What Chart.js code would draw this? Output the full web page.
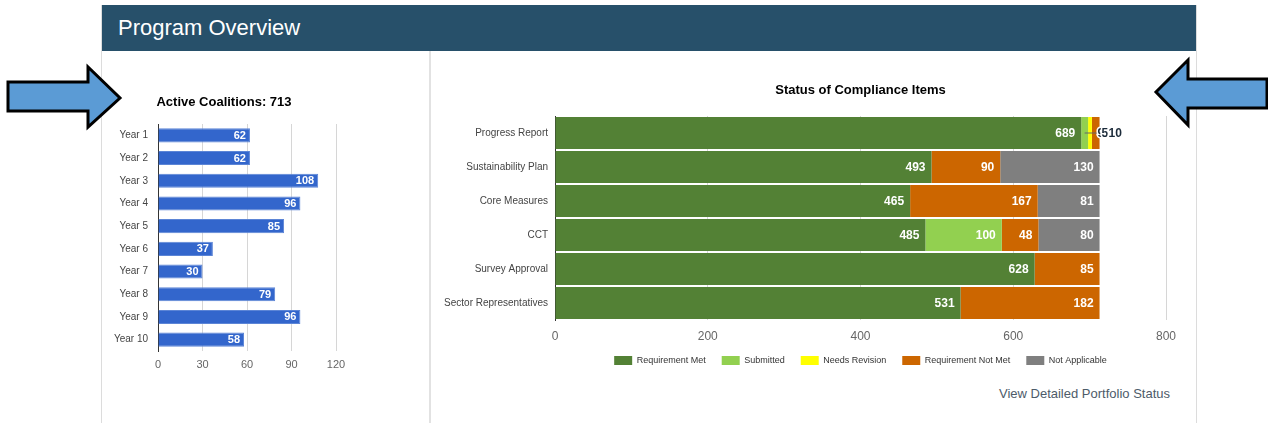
<!DOCTYPE html>
<html>
<head>
<meta charset="utf-8">
<title>Program Overview</title>
<script src="https://cdn.jsdelivr.net/npm/chart.js@4.4.1/dist/chart.umd.min.js"></script>
<style>
  body { margin: 0; background: #fff; width: 1268px; height: 423px; overflow: hidden; position: relative;
         font-family: "Liberation Sans", Arial, sans-serif; }
  .panel { position: absolute; left: 101px; top: 5px; width: 1094px; height: 430px;
           border-left: 1px solid #dcdcdc; border-right: 1px solid #dcdcdc; border-top: 1px solid #dcdcdc; }
  .header { position: absolute; left: 102px; top: 5px; width: 1094px; height: 46px; background: #27506a; }
  .header span { position: absolute; left: 16px; top: 10px; color: #fff; font-size: 22px; }
  .divider { position: absolute; left: 429px; top: 51px; width: 2px; height: 380px; background: #e2e2e2; }
  .box { position: absolute; }
  .link { position: absolute; right: 98px; top: 386px; font-size: 13px; color: #4d5b69; }
  svg { position: absolute; left: 0; top: 0; }
</style>
</head>
<body>
<div class="panel"></div>
<div class="header"><span>Program Overview</span></div>
<div class="divider"></div>

<div class="box" style="left:102px; top:86px; width:328px; height:290px;">
  <canvas id="coalitionChart"></canvas>
</div>
<div class="box" style="left:431px; top:75px; width:765px; height:300px;">
  <canvas id="complianceChart"></canvas>
</div>
<div class="link">View Detailed Portfolio Status</div>

<svg width="1268" height="423">
  <polygon points="8,82 88,82 88,67 120,98 88,127 88,111 8,111"
           fill="#5b9bd5" stroke="#000" stroke-width="3" stroke-linejoin="miter"/>
  <polygon points="1267,79 1188,79 1188,60 1156,92 1188,125 1188,108 1267,108"
           fill="#5b9bd5" stroke="#000" stroke-width="3" stroke-linejoin="miter"/>
</svg>

<script>
// Active coalitions by year
const years = ["Year 1", "Year 2", "Year 3", "Year 4", "Year 5", "Year 6", "Year 7", "Year 8", "Year 9", "Year 10"];
const coalitionCounts = [62, 62, 108, 96, 85, 37, 30, 79, 96, 58];
const coalitionTicks = [0, 30, 60, 90, 120];

// Compliance items
const complianceItems = ["Progress Report", "Sustainability Plan", "Core Measures", "CCT", "Survey Approval", "Sector Representatives"];
const requirementMet = [689, 493, 465, 485, 628, 531];
const submitted = [9, 0, 0, 100, 0, 0];
const needsRevision = [5, 0, 0, 0, 0, 0];
const requirementNotMet = [10, 90, 167, 48, 85, 182];
const notApplicable = [0, 130, 81, 80, 0, 0];
const complianceTicks = [0, 200, 400, 600, 800];

const FONT = "'Liberation Sans', Arial, sans-serif";
const tickColor = "#444";

// white value labels inside bars, small ones pushed outside with a leader line
const barLabels = {
  id: "barLabels",
  afterDatasetsDraw(chart, args, opts) {
    const ctx = chart.ctx;
    const outside = {};
    ctx.save();
    ctx.font = "bold " + (opts.size || 11) + "px " + FONT;
    ctx.textBaseline = "middle";
    chart.data.datasets.forEach((ds, di) => {
      const meta = chart.getDatasetMeta(di);
      meta.data.forEach((bar, i) => {
        const v = ds.data[i];
        if (!v) return;
        const txt = String(v);
        const w = ctx.measureText(txt).width;
        const len = Math.abs(bar.x - bar.base);
        if (len > w + 8) {
          ctx.fillStyle = "#fff";
          ctx.textAlign = "right";
          ctx.fillText(txt, bar.x - (opts.inset || 5), bar.y + 0.5);
        } else {
          (outside[i] = outside[i] || []).push({ txt, mid: (bar.x + bar.base) / 2, y: bar.y });
        }
      });
    });
    Object.keys(outside).forEach(i => {
      const items = outside[i];
      const end = chart.scales.x.getPixelForValue(
        chart.data.datasets.reduce((s, d) => s + (d.data[i] || 0), 0));
      const y = items[0].y;
      ctx.strokeStyle = "#666";
      ctx.lineWidth = 1;
      ctx.beginPath();
      ctx.moveTo(items[0].mid, y);
      ctx.lineTo(end + 2, y);
      ctx.stroke();
      const offs = [-2, 2, 9];
      items.forEach((it, k) => {
        const x = end + (offs[k] !== undefined ? offs[k] : k * 6);
        ctx.textAlign = "left";
        ctx.lineWidth = 3;
        ctx.strokeStyle = "#fff";
        ctx.strokeText(it.txt, x, y + 0.5);
        ctx.fillStyle = "#1c2b3a";
        ctx.fillText(it.txt, x, y + 0.5);
      });
    });
    ctx.restore();
  }
};

new Chart(document.getElementById("coalitionChart"), {
  type: "bar",
  data: {
    labels: years,
    datasets: [{
      data: coalitionCounts,
      backgroundColor: "#3366cc",
      borderColor: "#5c85d6",
      borderWidth: 1,
      barPercentage: 0.62,
      categoryPercentage: 1
    }]
  },
  options: {
    indexAxis: "y",
    responsive: true,
    maintainAspectRatio: false,
    animation: false,
    layout: { padding: { left: 10, right: 94, top: 0, bottom: 0 } },
    plugins: {
      legend: { display: false },
      tooltip: { enabled: false },
      barLabels: { size: 11, inset: 4 },
      title: {
        display: true,
        text: "Active Coalitions: 713",
        color: "#000",
        font: { family: FONT, size: 13, weight: "bold" },
        padding: { top: 8.4, bottom: 14 }
      }
    },
    scales: {
      x: {
        min: 0,
        max: 120,
        afterBuildTicks: axis => { axis.ticks = coalitionTicks.map(v => ({ value: v })); },
        afterFit: axis => { axis.height = 25; },
        grid: { color: "#d6d6d6", drawTicks: false },
        border: { display: false },
        ticks: { color: "#666", padding: 7, font: { family: FONT, size: 11 } }
      },
      y: {
        afterFit: axis => { axis.width = 46; },
        grid: { display: false, drawTicks: false },
        border: { display: true, color: "#333", width: 1 },
        ticks: { color: tickColor, padding: 10, font: { family: FONT, size: 10 } }
      }
    }
  },
  plugins: [barLabels]
});

const seg = (label, data, color) => ({
  label, data, backgroundColor: color, borderWidth: 0,
  barPercentage: 0.94, categoryPercentage: 1
});

new Chart(document.getElementById("complianceChart"), {
  type: "bar",
  data: {
    labels: complianceItems,
    datasets: [
      seg("Requirement Met", requirementMet, "#538135"),
      seg("Submitted", submitted, "#92d050"),
      seg("Needs Revision", needsRevision, "#ffff00"),
      seg("Requirement Not Met", requirementNotMet, "#cc6600"),
      seg("Not Applicable", notApplicable, "#7f7f7f")
    ]
  },
  options: {
    indexAxis: "y",
    responsive: true,
    maintainAspectRatio: false,
    animation: false,
    layout: { padding: { left: 0, right: 30, top: 0, bottom: 0 } },
    plugins: {
      tooltip: { enabled: false },
      barLabels: { size: 12, inset: 6 },
      title: {
        display: true,
        fullSize: false,
        text: "Status of Compliance Items",
        color: "#000",
        font: { family: FONT, size: 13, weight: "bold" },
        padding: { top: 7.4, bottom: 18 }
      },
      legend: {
        position: "bottom",
        fullSize: false,
        labels: {
          boxWidth: 18,
          boxHeight: 9,
          padding: 16,
          color: "#333",
          font: { family: FONT, size: 9 }
        }
      }
    },
    scales: {
      x: {
        stacked: true,
        min: 0,
        max: 800,
        afterBuildTicks: axis => { axis.ticks = complianceTicks.map(v => ({ value: v })); },
        afterFit: axis => { axis.height = 20; },
        grid: { color: "#d6d6d6", drawTicks: false },
        border: { display: false },
        ticks: { color: "#666", padding: 9, font: { family: FONT, size: 12 } }
      },
      y: {
        stacked: true,
        afterFit: axis => { axis.width = 124; },
        grid: { display: false, drawTicks: false },
        border: { display: true, color: "#333", width: 1 },
        ticks: { color: tickColor, padding: 7, font: { family: FONT, size: 10 } }
      }
    }
  },
  plugins: [barLabels]
});
</script>
</body>
</html>
